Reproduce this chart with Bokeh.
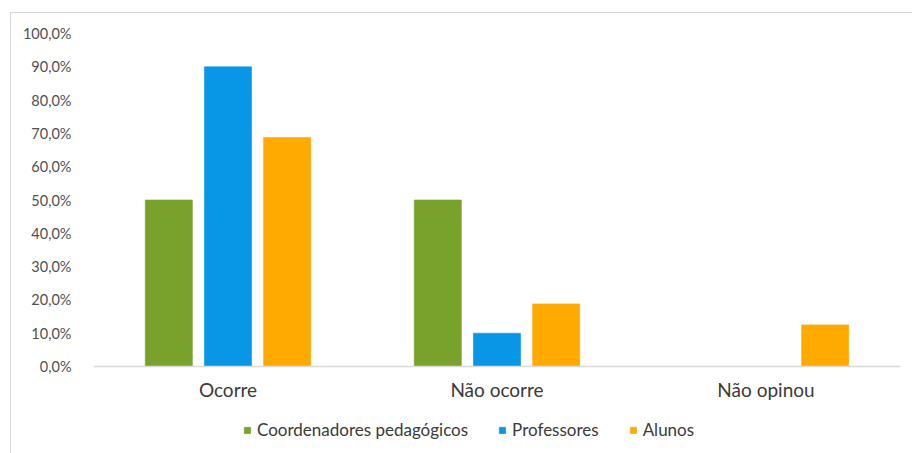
from bokeh.plotting import figure
from bokeh.models import ColumnDataSource, FactorRange, FixedTicker, Legend, LegendItem, Range1d
from bokeh.transform import dodge
from bokeh.embed import file_html
from bokeh.resources import INLINE

categories = ["Ocorre", "Não ocorre", "Não opinou"]
series_names = ["Coordenadores pedagógicos", "Professores", "Alunos"]
coordenadores = [50.0, 50.0, 0.0]
professores = [90.0, 10.0, 0.0]
alunos = [68.8, 18.8, 12.5]
y_ticks = [0, 10, 20, 30, 40, 50, 60, 70, 80, 90, 100]
y_tick_labels = ["0,0%", "10,0%", "20,0%", "30,0%", "40,0%", "50,0%",
                 "60,0%", "70,0%", "80,0%", "90,0%", "100,0%"]
colors = ["#78A22B", "#0896E6", "#FFAA00"]

source = ColumnDataSource(dict(cat=categories, c=coordenadores, p=professores, a=alunos))

FONT = "Lato"

# frame spans from the plot top down to the bottom of the chart box so the
# legend can sit inside it; the value axis keeps 0..100 over the upper part
frame_h = 420
axis_h = 333
y_start = 100 - 100 * frame_h / axis_h

p = figure(x_range=FactorRange(*categories, range_padding=0), y_range=Range1d(y_start, 100),
           width=902, height=441, output_backend="svg", toolbar_location=None,
           min_border_left=82, min_border_right=13, min_border_top=20, min_border_bottom=1)
p.margin = (12, 0, 0, 10)
p.styles = {"border-top": "1px solid #d6d6d6", "border-left": "1px solid #d6d6d6"}
p.outline_line_color = None
p.xgrid.grid_line_color = None
p.ygrid.grid_line_color = None

bw = 0.175
offsets = [-0.22, 0.0, 0.22]
renderers = []
for key, off, col in zip(["c", "p", "a"], offsets, colors):
    r = p.vbar(x=dodge("cat", off, range=p.x_range), top=key, width=bw, source=source,
               fill_color=col, line_color=col, line_alpha=0.6)
    renderers.append(r)

p.yaxis.ticker = FixedTicker(ticks=y_ticks)
p.yaxis.major_label_overrides = {t: l for t, l in zip(y_ticks, y_tick_labels)}
p.yaxis.axis_line_color = None
p.yaxis.major_tick_line_color = None
p.yaxis.minor_tick_line_color = None
p.yaxis.major_label_text_font = FONT
p.yaxis.major_label_text_font_size = "14.5px"
p.yaxis.major_label_text_color = "#505050"
p.yaxis.major_label_standoff = 16

p.xaxis.fixed_location = 0
p.xaxis.axis_line_color = "#d9d9d9"
p.xaxis.axis_line_width = 1.5
p.xaxis.major_tick_line_color = None
p.xaxis.minor_tick_line_color = None
p.xaxis.major_tick_out = 0
p.xaxis.major_label_text_font = FONT
p.xaxis.major_label_text_font_size = "19px"
p.xaxis.major_label_text_color = "#3a3a3a"
p.xaxis.major_label_standoff = 11

items = [LegendItem(label=n, renderers=[r]) for n, r in zip(series_names, renderers)]
legend = Legend(items=items, orientation="horizontal", location=(150, 13),
                padding=0, margin=0, spacing=30, label_standoff=6,
                glyph_width=8, glyph_height=8, label_height=17,
                border_line_color=None, background_fill_alpha=0,
                label_text_font=FONT, label_text_font_size="17px",
                label_text_color="#3a3a3a")
p.add_layout(legend, "center")

open("out.html", "w").write(file_html(p, INLINE))
